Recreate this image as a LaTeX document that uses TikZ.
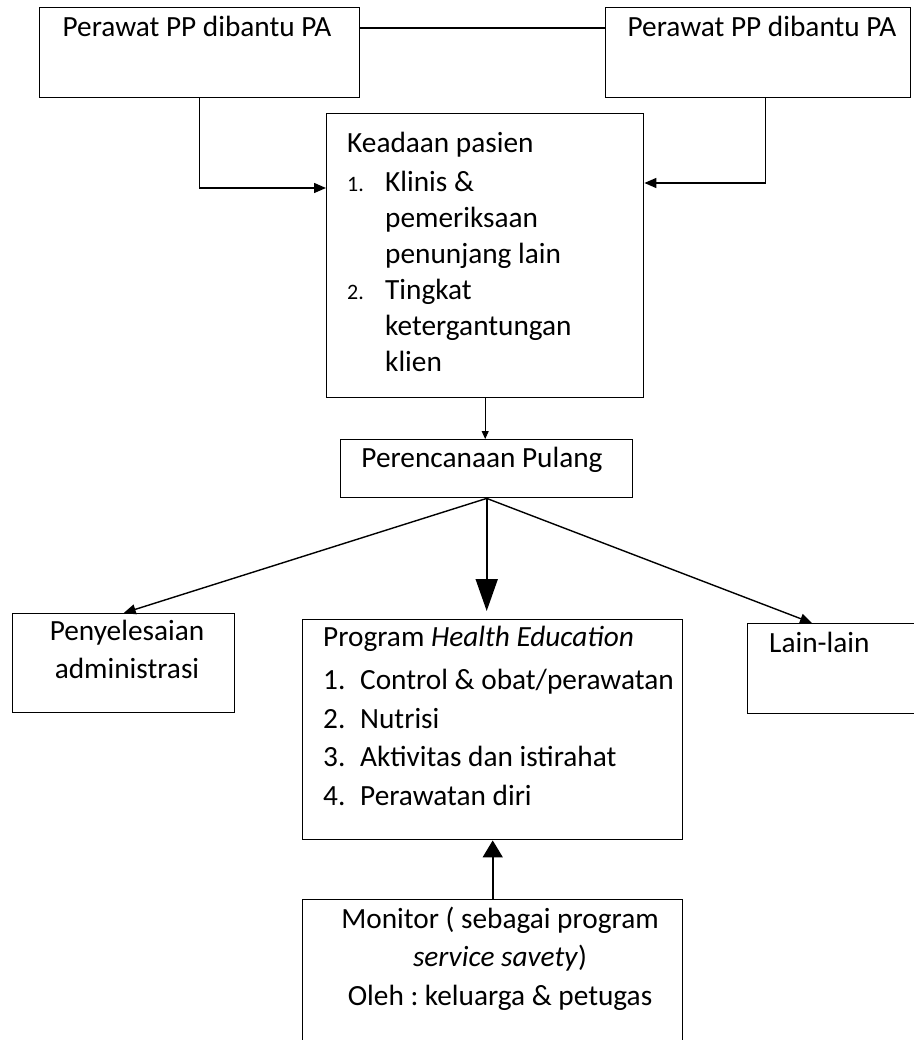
\documentclass[tikz,border=0pt]{standalone}
\usepackage{fontspec}
\setmainfont{Carlito}
\usepackage{tikz}
\usetikzlibrary{
  arrows.meta,
  positioning,
  calc
}
\tikzset{
  kotak/.style={draw, line width=1.4pt, anchor=north west, inner sep=0pt},
  teks/.style={inner sep=0pt, font=\fontsize{29.3}{36}\selectfont},
  panah/.style={-{Triangle[length=12pt, width=10pt]}, line width=1.4pt},
  panahtipis/.style={-{Triangle[length=8pt, width=7pt]}, line width=0.9pt},
  panahbesar/.style={-{Triangle[length=32pt, width=22pt]}, line width=1.8pt},
}
\newcommand{\nomorkecil}[1]{{\fontsize{22}{26}\selectfont #1}}
\frenchspacing

\begin{document}
\begin{tikzpicture}[x=1pt, y=-1pt]
  \useasboundingbox (0,0) rectangle (913,1040);

  % kotak-kotak
  \node[kotak, minimum width=320pt, minimum height=90pt] (ppkiri) at (39,7) {};
  \node[kotak, minimum width=305pt, minimum height=90pt] (ppkanan) at (605,7) {};
  \node[kotak, minimum width=317pt, minimum height=284pt] (kead) at (326,113) {};
  \node[kotak, minimum width=292pt, minimum height=58pt] (pulang) at (340,439) {};
  \node[kotak, minimum width=222pt, minimum height=99pt] (admin) at (12,613) {};
  \node[kotak, minimum width=380pt, minimum height=220pt] (health) at (302,619) {};
  \node[kotak, minimum width=183pt, minimum height=90pt] (lain) at (747,623) {};
  \node[kotak, minimum width=380pt, minimum height=160pt] (monitor) at (302,899) {};

  % isi teks
  \node[teks, anchor=base] (tkiri) at (197,37) {Perawat PP dibantu PA};
  \node[teks, anchor=base] (tkanan) at (762,37) {Perawat PP dibantu PA};
  \node[teks, anchor=base west] (tkead) at (347,153)
    {\begin{tabular}[t]{@{}p{38pt}@{}l@{}}
      \multicolumn{2}{@{}l@{}}{Keadaan pasien}\\[3pt]
      \nomorkecil{1.} & Klinis \&\\
                      & pemeriksaan\\
                      & penunjang lain\\
      \nomorkecil{2.} & Tingkat\\
                      & ketergantungan\\
                      & klien
     \end{tabular}};
  \node[teks, anchor=base] (tpulang) at (482,467) {Perencanaan Pulang};
  \node[teks, anchor=base] (tadmin) at (127,640)
    {\begin{tabular}[t]{@{}c@{}}Penyelesaian\\[2pt] administrasi\end{tabular}};
  \node[teks, anchor=base west, font=\fontsize{29.3}{38.5}\selectfont] (thealth) at (323,646)
    {\begin{tabular}[t]{@{}p{37pt}@{}l@{}}
      \multicolumn{2}{@{}l@{}}{Program \textit{Health Education}}\\[5pt]
      1. & Control \& obat/perawatan\\
      2. & Nutrisi\\
      3. & Aktivitas dan istirahat\\
      4. & Perawatan diri
     \end{tabular}};
  \node[teks, anchor=base west] (tlain) at (769,652) {Lain-lain};
  \node[teks, anchor=base, font=\fontsize{29.3}{38.5}\selectfont] (tmonitor) at (500,928)
    {\begin{tabular}[t]{@{}c@{}}
      Monitor ( sebagai program\\
      \textit{service savety})\\
      Oleh : keluarga \& petugas
     \end{tabular}};

  % penghubung
  \draw[line width=1.4pt] ($(ppkiri.north east)+(0,21)$) -- ($(ppkanan.north west)+(0,21)$);
  \draw[panah] (ppkiri.south) |- ($(kead.north west)+(0,75)$);
  \draw[panah] ($(ppkanan.south)+(7,0)$) |- ($(kead.north east)+(0,70)$);
  \draw[panahtipis] (kead.south) -- (kead.south |- pulang.north);
  \draw[panah] (pulang.south) -- (admin.north);
  \draw[panahbesar, shorten >=8pt] (pulang.south) -- (pulang.south |- health.north);
  \draw[panah] (pulang.south) -- ($(lain.north west)+(65,0)$);
  \draw[-{Triangle[length=17pt, width=20pt]}, line width=1.6pt] (monitor.north) -- (health.south);
\end{tikzpicture}
\end{document}
